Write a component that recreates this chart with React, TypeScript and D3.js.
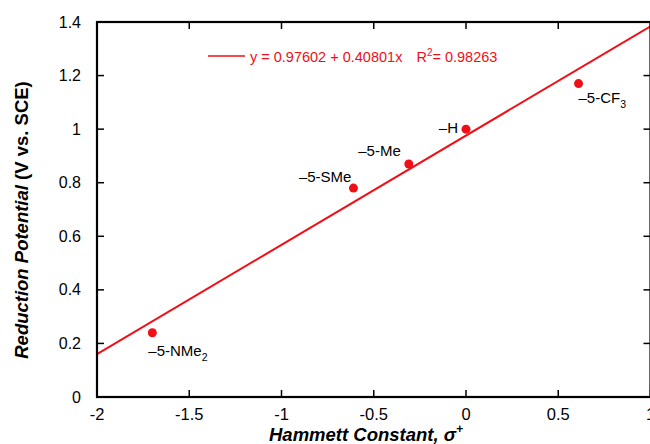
import React, { useEffect, useRef } from "react";
import * as d3 from "d3";

const labels = ["–5-NMe", "–5-SMe", "–5-Me", "–H", "–5-CF"];
const subs = ["2", "", "", "", "3"];
const sigma = [-1.7, -0.61, -0.31, 0, 0.61];
const potential = [0.24, 0.78, 0.87, 1.0, 1.17];
const xTicks = [-2, -1.5, -1, -0.5, 0, 0.5, 1];
const yTicks = [0, 0.2, 0.4, 0.6, 0.8, 1, 1.2, 1.4];
const intercept = 0.97602;
const slope = 0.40801;
const r2 = "0.98263";

// label offsets relative to the point (px)
const labelPos = [
  { dx: -4, dy: 23, anchor: "start" },
  { dx: -2, dy: -6, anchor: "end" },
  { dx: -8, dy: -8, anchor: "end" },
  { dx: -8, dy: 4, anchor: "end" },
  { dx: 0, dy: 19, anchor: "start" },
];

const App = () => {
  const svgRef = useRef<SVGSVGElement>(null);

  useEffect(() => {
    const width = 650;
    const height = 444;
    const font = "'Liberation Sans', Arial, Helvetica, sans-serif";
    const red = "#f00f16";

    const svg = d3.select(svgRef.current);
    svg.selectAll("*").remove();
    svg.attr("width", width).attr("height", height).style("font-family", font);

    const x = d3.scaleLinear().domain([-2, 1]).range([97, 650.5]);
    const y = d3.scaleLinear().domain([0, 1.4]).range([397, 22]);

    // fit line
    const fit = [-2, 1].map((v) => [v, intercept + slope * v]);
    svg
      .append("path")
      .attr("d", d3.line().x((d) => x(d[0])).y((d) => y(d[1]))(fit as [number, number][]))
      .attr("stroke", red)
      .attr("stroke-width", 2)
      .attr("fill", "none");

    // frame
    const frame = svg.append("g").attr("stroke", "#000").attr("stroke-width", 2.2).attr("fill", "none");
    frame.append("rect").attr("x", x(-2)).attr("y", y(1.4)).attr("width", x(1) - x(-2)).attr("height", y(0) - y(1.4));

    // ticks
    xTicks.forEach((t) => {
      frame.append("line").attr("x1", x(t)).attr("x2", x(t)).attr("y1", y(0)).attr("y2", y(0) - 7).attr("stroke-width", 1.5);
      frame.append("line").attr("x1", x(t)).attr("x2", x(t)).attr("y1", y(1.4)).attr("y2", y(1.4) + 7).attr("stroke-width", 1.5);
    });
    yTicks.forEach((t) => {
      frame.append("line").attr("x1", x(-2)).attr("x2", x(-2) + 7).attr("y1", y(t)).attr("y2", y(t)).attr("stroke-width", 1.5);
      frame.append("line").attr("x1", x(1)).attr("x2", x(1) - 7).attr("y1", y(t)).attr("y2", y(t)).attr("stroke-width", 1.5);
    });

    svg
      .append("g")
      .selectAll("text")
      .data(xTicks)
      .join("text")
      .attr("x", (d) => x(d))
      .attr("y", 420)
      .attr("text-anchor", "middle")
      .attr("font-size", 16.5)
      .text((d) => String(d));

    svg
      .append("g")
      .selectAll("text")
      .data(yTicks)
      .join("text")
      .attr("x", 81)
      .attr("y", (d) => y(d) + 5.5)
      .attr("text-anchor", "end")
      .attr("font-size", 16)
      .text((d) => String(d));

    // axis titles
    const xt = svg
      .append("text")
      .attr("x", 366)
      .attr("y", 441)
      .attr("text-anchor", "middle")
      .attr("font-size", 18.5)
      .attr("font-weight", "bold")
      .attr("font-style", "italic");
    xt.append("tspan").text("Hammett Constant, σ");
    xt.append("tspan").attr("font-size", 12).attr("dy", -8).text("+");

    const yt = svg
      .append("text")
      .attr("transform", `translate(28,220) rotate(-90)`)
      .attr("text-anchor", "middle")
      .attr("font-size", 18.5)
      .attr("font-weight", "bold");
    yt.append("tspan").attr("font-style", "italic").text("Reduction Potential ");
    yt.append("tspan").text("(V vs. SCE)");

    // points
    svg
      .append("g")
      .selectAll("circle")
      .data(sigma)
      .join("circle")
      .attr("cx", (d) => x(d))
      .attr("cy", (d, i) => y(potential[i]))
      .attr("r", 4.5)
      .attr("fill", red);

    // point labels
    labels.forEach((l, i) => {
      const p = labelPos[i];
      const t = svg
        .append("text")
        .attr("x", x(sigma[i]) + p.dx)
        .attr("y", y(potential[i]) + p.dy)
        .attr("text-anchor", p.anchor)
        .attr("font-size", 15)
        .attr("fill", "#000");
      t.append("tspan").text(l);
      if (subs[i]) t.append("tspan").attr("font-size", 10.5).attr("dy", 5).text(subs[i]);
    });

    // legend
    svg.append("line").attr("x1", 208).attr("x2", 245).attr("y1", 56).attr("y2", 56).attr("stroke", red).attr("stroke-width", 1.5);
    const lg = svg.append("text").attr("x", 250).attr("y", 62).attr("font-size", 14.5).attr("fill", red);
    lg.append("tspan").text(`y = ${intercept} + ${slope}x`);
    lg.append("tspan").attr("dx", 14).text("R");
    lg.append("tspan").attr("font-size", 10).attr("dy", -6).text("2");
    lg.append("tspan").attr("dy", 6).text(`= ${r2}`);
  }, []);

  return (
    <div style={{ position: "absolute", left: 0, top: 0 }}>
      <svg ref={svgRef}></svg>
    </div>
  );
};

export default App;
